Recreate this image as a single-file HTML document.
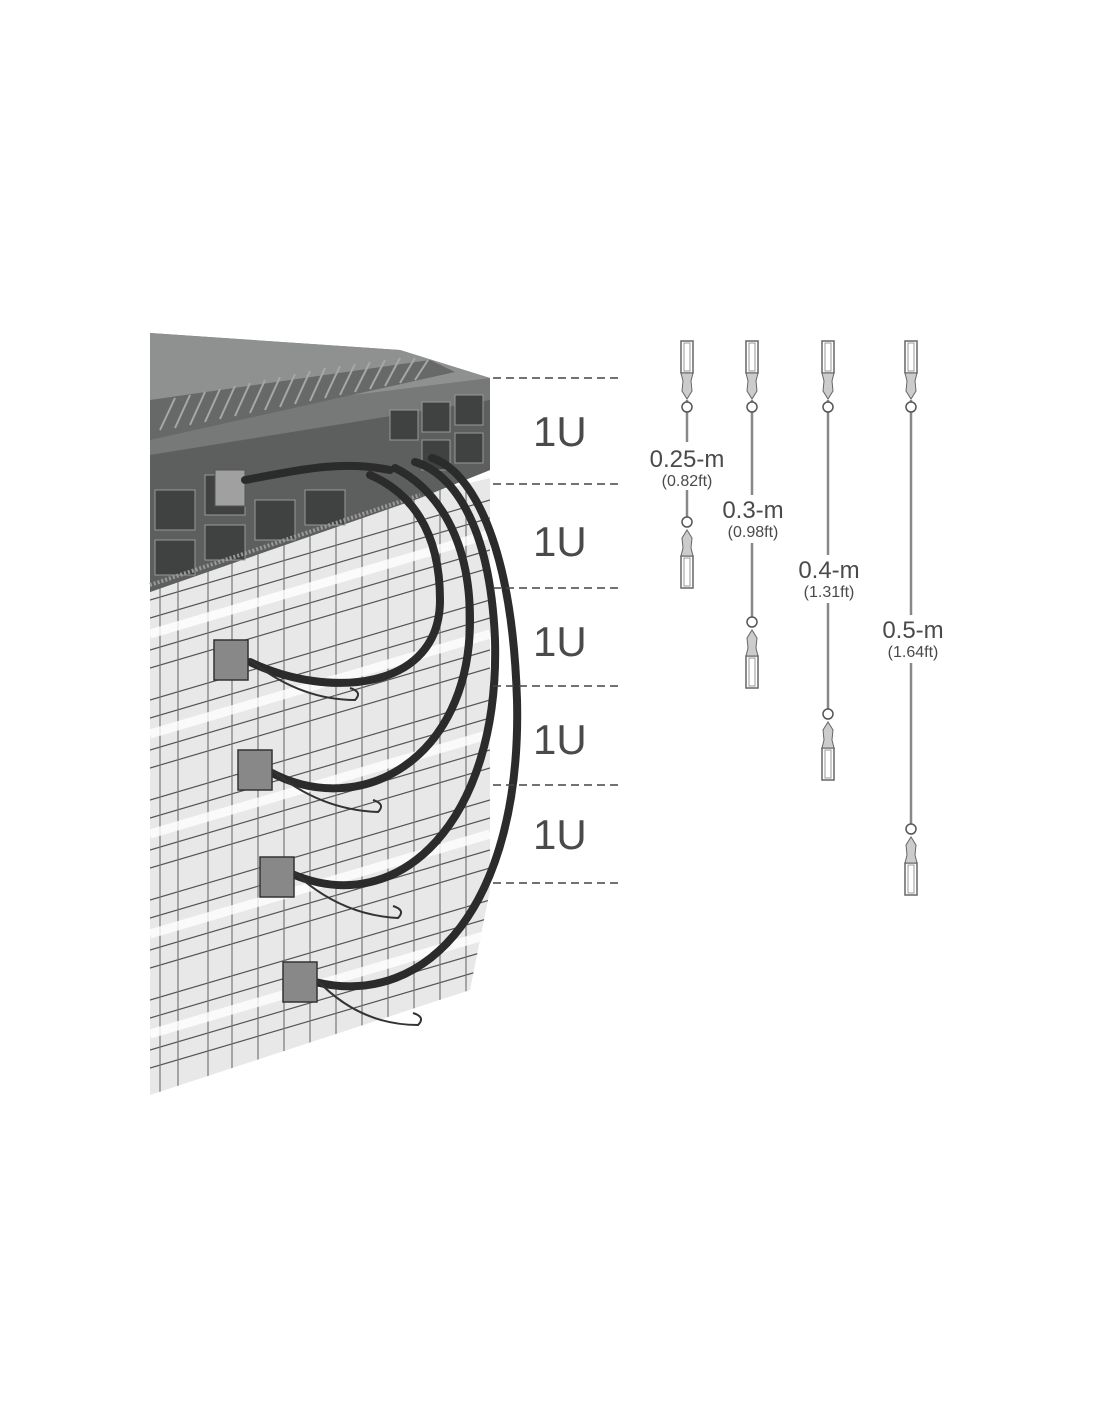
<!DOCTYPE html>
<html><head><style>
html,body{margin:0;padding:0;background:#fff;}
svg{display:block}
text{font-family:"Liberation Sans",sans-serif;fill:#4a4a4a}
</style></head><body>
<svg width="1100" height="1422" viewBox="0 0 1100 1422" xmlns="http://www.w3.org/2000/svg">
<defs>
<clipPath id="pc"><polygon points="150,560 490,478 490,890 470,990 150,1095"/></clipPath>
<g id="conTop">
<rect x="-6" y="0" width="12" height="32" fill="#fff" stroke="#666" stroke-width="1.5"/>
<rect x="-3" y="2" width="6" height="28" fill="none" stroke="#999" stroke-width="1"/>
<path d="M-6,32 L6,32 L4,40 L5,50 L0,58 L-5,50 L-4,40 Z" fill="#ccc" stroke="#666" stroke-width="1"/>
<circle cx="0" cy="66" r="5" fill="#fff" stroke="#555" stroke-width="1.5"/>
</g>
</defs>

<polygon points="150,560 490,478 490,890 470,990 150,1095" fill="#e8e8e8"/>
<g clip-path="url(#pc)" stroke="#555" stroke-width="1.2" fill="none">
  <path d="M150,600 L490,500"/><path d="M150,618 L490,518"/>
  <path d="M150,650 L490,550"/><path d="M150,668 L490,568"/>
  <path d="M150,700 L490,600"/><path d="M150,718 L490,618"/>
  <path d="M150,750 L490,650"/><path d="M150,768 L490,668"/>
  <path d="M150,800 L490,700"/><path d="M150,818 L490,718"/>
  <path d="M150,850 L490,750"/><path d="M150,868 L490,768"/>
  <path d="M150,900 L490,800"/><path d="M150,918 L490,818"/>
  <path d="M150,950 L490,850"/><path d="M150,968 L490,868"/>
  <path d="M150,1000 L490,900"/><path d="M150,1018 L490,918"/>
  <path d="M150,1050 L490,950"/><path d="M150,1068 L490,968"/>
  <g stroke="#777">
  <path d="M160,480V1100M178,480V1100M208,480V1100M232,480V1100M258,480V1100M284,480V1100M310,480V1100M336,480V1100M362,480V1100M388,480V1100M414,480V1100M440,480V1100M466,480V1100"/>
  </g>
  <g stroke="#fff" stroke-width="9" opacity="0.8">
  <path d="M150,634 L490,534"/><path d="M150,734 L490,634"/><path d="M150,834 L490,734"/><path d="M150,934 L490,834"/><path d="M150,1034 L490,934"/>
  </g>
</g>

<polygon points="150,333 400,350 490,378 490,470 420,498 150,592" fill="#767977"/>
<polygon points="150,333 400,350 490,378 150,420" fill="#8e918f"/>
<polygon points="150,400 430,360 455,372 150,440" fill="#666967"/>
<g stroke="#a5a8a6" stroke-width="2">
<path d="M160,430 L175,398M175,428 L190,395M190,425 L205,392M205,422 L220,389M220,419 L235,386M235,416 L250,383M250,413 L265,380M265,410 L280,377M280,407 L295,374M295,404 L310,371M310,401 L325,368M325,398 L340,366M340,395 L355,364M355,392 L370,362M370,389 L385,360M385,386 L400,358M400,383 L415,358M415,380 L428,360"/>
</g>
<polygon points="150,455 490,400 490,470 420,498 150,592" fill="#5c5f5e"/>
<g fill="#3f4241" stroke="#999" stroke-width="1">
<rect x="155" y="490" width="40" height="40"/><rect x="205" y="475" width="40" height="40"/>
<rect x="155" y="540" width="40" height="35"/><rect x="205" y="525" width="40" height="35"/>
<rect x="255" y="500" width="40" height="40"/><rect x="305" y="490" width="40" height="35"/>
<rect x="390" y="410" width="28" height="30"/><rect x="422" y="402" width="28" height="30"/><rect x="455" y="395" width="28" height="30"/>
<rect x="422" y="440" width="28" height="30"/><rect x="455" y="433" width="28" height="30"/>
</g>
<rect x="215" y="470" width="30" height="36" fill="#a0a0a0" stroke="#555"/>
<path d="M150,585 L420,495" stroke="#999" stroke-width="4" stroke-dasharray="2,2"/>

<g fill="none" stroke="#2b2b2b" stroke-width="8" stroke-linecap="round">
<path d="M245,480 C300,470 340,460 390,470"/>
<path d="M250,662 C330,700 440,690 440,600 C440,530 410,492 370,475"/>
<path d="M270,772 C360,820 470,760 470,620 C470,530 430,485 395,468"/>
<path d="M292,874 C400,920 500,820 495,640 C490,520 450,472 415,462"/>
<path d="M315,982 C430,1010 522,900 517,700 C512,540 470,470 432,458"/>
</g>
<g fill="#888" stroke="#333" stroke-width="1.5">
<rect x="214" y="640" width="34" height="40"/>
<rect x="238" y="750" width="34" height="40"/>
<rect x="260" y="857" width="34" height="40"/>
<rect x="283" y="962" width="34" height="40"/>
</g>
<g fill="none" stroke="#333" stroke-width="2">
<path d="M250,660 Q300,700 355,700 q8,-8 -5,-12"/>
<path d="M272,770 Q320,810 378,812 q8,-8 -5,-12"/>
<path d="M294,872 Q340,915 398,918 q8,-8 -5,-12"/>
<path d="M317,980 Q360,1025 418,1025 q8,-8 -5,-12"/>
</g>

<g stroke="#444" stroke-width="1.5" stroke-dasharray="8,5">
<path d="M493,378H622M493,484H622M493,588H622M493,686H622M493,785H622M493,883H622"/>
</g>
<g font-size="42">
<text x="533" y="446">1U</text>
<text x="533" y="556">1U</text>
<text x="533" y="656">1U</text>
<text x="533" y="754">1U</text>
<text x="533" y="849">1U</text>
</g>

<g stroke="#888" stroke-width="2.5" fill="none">
<path d="M687,400V520"/><path d="M752,400V620"/><path d="M828,400V710"/><path d="M911,400V825"/>
</g>
<use href="#conTop" x="687" y="341"/>
<use href="#conTop" transform="translate(687,588) scale(1,-1)"/>
<use href="#conTop" x="752" y="341"/>
<use href="#conTop" transform="translate(752,688) scale(1,-1)"/>
<use href="#conTop" x="828" y="341"/>
<use href="#conTop" transform="translate(828,780) scale(1,-1)"/>
<use href="#conTop" x="911" y="341"/>
<use href="#conTop" transform="translate(911,895) scale(1,-1)"/>

<g text-anchor="middle">
<rect x="640" y="442" width="94" height="48" fill="#fff"/>
<text x="687" y="467" font-size="24">0.25-m</text>
<text x="687" y="486" font-size="16">(0.82ft)</text>
<rect x="712" y="495" width="84" height="48" fill="#fff"/>
<text x="753" y="518" font-size="24">0.3-m</text>
<text x="753" y="537" font-size="16">(0.98ft)</text>
<rect x="788" y="555" width="82" height="48" fill="#fff"/>
<text x="829" y="578" font-size="24">0.4-m</text>
<text x="829" y="597" font-size="16">(1.31ft)</text>
<rect x="872" y="615" width="82" height="48" fill="#fff"/>
<text x="913" y="638" font-size="24">0.5-m</text>
<text x="913" y="657" font-size="16">(1.64ft)</text>
</g>
</svg>
</body></html>
